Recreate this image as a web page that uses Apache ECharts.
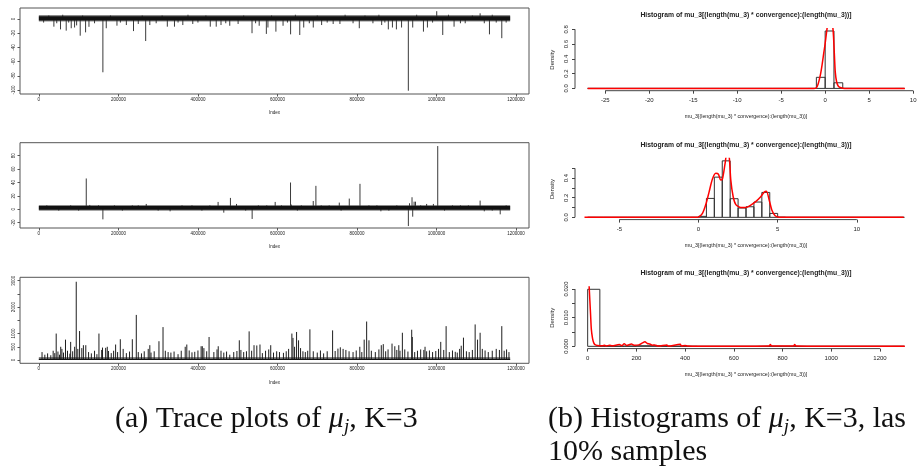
<!DOCTYPE html>
<html>
<head>
<meta charset="utf-8">
<script src="https://cdn.jsdelivr.net/npm/echarts@6/dist/echarts.min.js"></script>
<style>
html, body { margin: 0; padding: 0; background: #fff; }
#chart { width: 918px; height: 466px; }
</style>
</head>
<body>
<div id="chart"></div>
<script>
// ---------- trace plots (left) ----------
const traceLength = 1185000
const traceTicks = [0, 200000, 400000, 600000, 800000, 1000000, 1200000]

const trace1Range = [-105.6, 15.5]
const trace1Ticks = [-100, -80, -60, -40, -20, 0]
const trace1Band = [-2, 4]
const trace1Halo = [-3.5, 5.5]
const trace1Spikes = [
  [37800, -10.8], [54500, -14.6], [68800, -16.4], [81400, -13], [89800, -12], [95000, -9],
  [104000, -23.5], [117500, -18.8], [126000, -11], [161000, -75], [169500, -13], [196400, -9.4],
  [220000, -8.5], [238000, -17], [250000, -7], [268600, -31], [279000, -8.5], [323000, -10.8],
  [341000, -10.8], [362000, -8.5], [387000, -7], [431000, -10.8], [446000, -10.8], [458000, -8.5],
  [480000, -9.5], [501000, -7], [536000, -20], [554000, -9.5], [572000, -21], [576000, -12],
  [596000, -17.8], [614000, -9.5], [633000, -21.6], [656000, -22.5], [666000, -12], [690000, -12],
  [711000, -8.5], [740000, -7], [757000, -7], [805700, -13], [862000, -8.5], [878700, -14.6],
  [889000, -12], [899000, -14.6], [912000, -12], [929000, -101], [940000, -12], [967000, -17.8],
  [977000, -12], [1000400, 11], [1015500, -22.5], [1044000, -10.8], [1072000, -6], [1109500, 8],
  [1120000, -6], [1133000, -21.6], [1150000, -5], [1164000, -27],
  [12000, -5], [25000, 5], [45000, -6], [60000, 6], [75000, -5], [110000, 5], [140000, -6],
  [180000, 5], [205000, -5], [260000, 5], [295000, -6], [310000, 5], [350000, -5], [375000, 6],
  [400000, -5], [420000, 5], [470000, -6], [515000, 5], [545000, -6], [585000, 5], [625000, -5],
  [645000, 6], [680000, -6], [700000, 5], [725000, -5], [770000, 6], [790000, -6], [820000, 5],
  [840000, -6], [855000, 6], [870000, -5], [950000, 6], [990000, -5], [1030000, 6], [1060000, -6],
  [1090000, 5], [1140000, 6], [1175000, -5]
]

const trace2Range = [-27.9, 99.4]
const trace2Ticks = [-20, 0, 20, 40, 60, 80]
const trace2Band = [-0.5, 5]
const trace2Halo = [-2, 6.5]
const trace2Spikes = [
  [119200, 46], [128000, 6.5], [161000, -15], [190000, 6], [235000, 6], [270000, 8], [330000, -3],
  [385000, 6], [450700, 11], [465000, -5], [481700, 17], [497000, 8], [536300, -14.4], [552000, 6],
  [573000, 6], [594200, 11], [632800, 40], [635000, 7], [660000, 6], [689900, 12.4], [696600, 35],
  [730000, 6], [755400, 10], [780500, 16], [807400, 38], [830000, 6], [860000, -3], [900000, 6],
  [929100, -25], [932000, 9], [938300, 18], [940000, -11], [943500, 11.4], [947000, 11.4],
  [975000, 8], [992000, 8], [1002900, 94.4], [1040000, 6], [1060000, 6], [1109500, 13],
  [1120000, -3], [1160000, -7.5],
  [20000, 6], [50000, -2], [80000, 6], [100000, -2], [150000, 6], [210000, -2], [250000, 6],
  [300000, -2], [360000, 6], [410000, -2], [430000, 6], [520000, -2], [610000, 6], [650000, -2],
  [710000, 6], [760000, -2], [850000, 6], [880000, -2], [960000, 6], [1020000, -2], [1080000, 6],
  [1140000, -2], [1175000, 6]
]

const trace3Range = [-125, 3128]
const trace3Ticks = [0, 500, 1000, 1500, 2000, 2500, 3000]
const trace3Labels = [0, 500, 1000, 2000, 3000]
const trace3Band = [0, 50]
const trace3Halo = [0, 110]
const trace3Spikes = [
  [43600, 1000], [55000, 500], [67000, 770], [80000, 685], [94000, 2960], [102400, 1095],
  [118000, 560], [151100, 1000], [160000, 470], [172000, 500], [193000, 585], [204800, 785],
  [235000, 785], [245000, 1705], [279000, 560], [302000, 710], [312200, 1245], [372000, 585],
  [411000, 520], [428000, 870], [451000, 520], [504000, 745], [528700, 1083], [541000, 560],
  [556000, 585], [583000, 560], [636200, 1000], [639000, 835], [648000, 1060], [653000, 745],
  [681500, 1160], [738600, 1120], [807000, 500], [818000, 770], [824200, 1455], [830000, 745],
  [861000, 560], [888000, 620], [905000, 560], [914000, 1030], [937500, 1145], [939000, 870],
  [971000, 500], [1010500, 685], [1024000, 1280], [1047000, 310], [1067600, 845], [1097000, 1345],
  [1103000, 770], [1109500, 1030], [1164000, 1280], [1176000, 400],
  [8000, 300], [15000, 200], [22000, 250], [30000, 180], [36000, 350], [40000, 260], [48000, 320],
  [52000, 200], [58000, 420], [62000, 280], [72000, 350], [78000, 240], [85000, 330], [90000, 500],
  [98000, 420], [108000, 450], [112000, 560], [125000, 300], [132000, 250], [140000, 350],
  [146000, 220], [158000, 380], [168000, 460], [175000, 340], [182000, 260], [188000, 350],
  [198000, 300], [212000, 420], [220000, 260], [228000, 320], [250000, 300], [258000, 250],
  [265000, 330], [275000, 420], [282000, 280], [290000, 330], [318000, 350], [325000, 300],
  [332000, 280], [340000, 320], [350000, 220], [358000, 350], [368000, 500], [378000, 360],
  [385000, 290], [392000, 310], [400000, 360], [408000, 520], [415000, 450], [422000, 330],
  [440000, 300], [448000, 400], [458000, 350], [465000, 280], [472000, 320], [480000, 200],
  [490000, 300], [498000, 340], [508000, 380], [515000, 300], [522000, 330], [535000, 350],
  [548000, 550], [562000, 260], [570000, 350], [578000, 400], [590000, 280], [598000, 330],
  [605000, 300], [615000, 270], [622000, 330], [628000, 420], [643000, 500], [658000, 450],
  [664000, 330], [670000, 300], [676000, 350], [690000, 330], [700000, 280], [708000, 360],
  [716000, 250], [725000, 330], [745000, 340], [752000, 430], [758000, 480], [765000, 420],
  [772000, 380], [780000, 330], [790000, 300], [798000, 360], [812000, 300], [836000, 350],
  [846000, 300], [855000, 400], [866000, 600], [872000, 330], [878000, 400], [895000, 520],
  [900000, 380], [908000, 350], [920000, 400], [928000, 320], [945000, 300], [952000, 350],
  [960000, 400], [968000, 380], [975000, 330], [982000, 360], [990000, 300], [998000, 340],
  [1005000, 420], [1018000, 380], [1032000, 300], [1040000, 360], [1052000, 280], [1058000, 420],
  [1062000, 540], [1075000, 330], [1082000, 300], [1090000, 380], [1115000, 420], [1122000, 360],
  [1130000, 300], [1140000, 350], [1150000, 420], [1158000, 380], [1170000, 350], [1182000, 300]
]

// ---------- histograms (right) ----------
const histTitle = 'Histogram of mu_3[(length(mu_3) * convergence):(length(mu_3))]'
const histXName = 'mu_3[(length(mu_3) * convergence):(length(mu_3))]'

const hist1Start = -27
const hist1Step = 1
const hist1Density = [
  0.0003, 0, 0, 0, 0, 0, 0, 0, 0, 0,
  0, 0, 0, 0, 0, 0, 0, 0, 0, 0,
  0, 0, 0, 0, 0, 0.0005, 0.15, 0.777, 0.076, 0.0008,
  0.0002, 0, 0, 0, 0, 0.0005
]
const hist1XTicks = [-25, -20, -15, -10, -5, 0, 5, 10]
const hist1YTicks = [0, 0.2, 0.4, 0.6, 0.8]
const hist1YLabels = [0, 0.2, 0.4, 0.6, 0.8]
const dens1 = [
  [-27, 0], [-1.3, 0], [-1.0, 0.01], [-0.8, 0.06], [-0.55, 0.18], [-0.35, 0.32], [-0.17, 0.47],
  [0.0, 0.61], [0.15, 0.75], [0.3, 0.88], [0.5, 0.97], [0.7, 0.95], [0.85, 0.85], [0.95, 0.7],
  [1.05, 0.45], [1.15, 0.22], [1.3, 0.09], [1.5, 0.03], [1.8, 0.008], [2.2, 0], [9.06, 0]
]

const hist2Start = -7
const hist2Step = 0.5
const hist2Density = [
  0.0003, 0, 0, 0, 0, 0, 0, 0, 0, 0,
  0, 0, 0, 0.0005, 0.01, 0.193, 0.41, 0.576, 0.19, 0.095,
  0.108, 0.156, 0.254, 0.04, 0.002, 0, 0, 0, 0, 0,
  0, 0, 0, 0, 0, 0, 0, 0, 0, 0.0003
]
const hist2XTicks = [-5, 0, 5, 10]
const hist2YTicks = [0, 0.1, 0.2, 0.3, 0.4, 0.5]
const hist2YLabels = [0, 0.2, 0.4]
const dens2 = [
  [-7.2, 0], [-0.1, 0], [0.04, 0.007], [0.25, 0.04], [0.46, 0.13], [0.67, 0.26], [0.88, 0.39],
  [1.09, 0.45], [1.26, 0.44], [1.4, 0.38], [1.51, 0.39], [1.68, 0.55], [1.8, 0.66], [1.93, 0.63],
  [2.04, 0.38], [2.19, 0.21], [2.36, 0.13], [2.67, 0.1], [2.98, 0.1], [3.3, 0.125], [3.61, 0.16],
  [3.93, 0.21], [4.14, 0.255], [4.29, 0.265], [4.46, 0.18], [4.63, 0.075], [4.84, 0.017],
  [5.1, 0.002], [5.4, 0], [12.96, 0]
]

const hist3Start = 0
const hist3Step = 50
const hist3Density = [
  0.0199, 0.0001, 0.00005, 0.0001, 0.0002, 0.0002, 0.00005, 0.00005, 0.00003, 0,
  0, 0, 0, 0, 0.00001, 0.00002, 0, 0, 0, 0,
  0, 0, 0, 0, 0, 0.00001
]
const hist3XTicks = [0, 200, 400, 600, 800, 1000, 1200]
const hist3YTicks = [0, 0.005, 0.01, 0.015, 0.02]
const hist3YLabels = [0, 0.01, 0.02]
const dens3 = [
  [2, 0.03], [4, 0.025], [6, 0.021], [9, 0.016], [12, 0.011], [15, 0.006], [20, 0.0028],
  [25, 0.0012], [30, 0.0006], [40, 0.0003], [60, 0.0002], [70, 0.0004], [75, 0.0001],
  [90, 0.0004], [100, 0.0002], [130, 0.0006], [140, 0.0002], [150, 0.0009], [160, 0.0003],
  [180, 0.0008], [190, 0.0004], [210, 0.0005], [225, 0.0012], [235, 0.0016], [245, 0.001],
  [255, 0.0008], [265, 0.0004], [275, 0.0005], [290, 0.0001], [325, 0.0005], [330, 0.0001],
  [380, 0.0007], [385, 0.0001], [400, 0.0003], [410, 0.0001], [430, 0.00005], [600, 0.00003],
  [745, 0.0001], [750, 0.0006], [755, 0.0001], [845, 0.0001], [850, 0.0006], [855, 0.0001],
  [1000, 0.00003], [1250, 0.00002], [1302, 0]
]

// ---------- helpers ----------
const SANS = '"Liberation Sans", Arial, sans-serif'
const SERIF = '"Liberation Serif", "Times New Roman", serif'
const INK = '#222'

function padRange (lo, hi) {
  // R default axis style: data range widened by 4%
  const d = (hi - lo) * 0.04
  return [lo - d, hi + d]
}

function bandSeries (gi, band, color) {
  return {
    type: 'custom', xAxisIndex: gi, yAxisIndex: gi, silent: true, clip: true,
    encode: { x: [0, 1], y: [2, 3] },
    data: [[0, traceLength, band[0], band[1]]],
    renderItem: function (params, api) {
      const a = api.coord([api.value(0), api.value(3)])
      const b = api.coord([api.value(1), api.value(2)])
      return { type: 'rect', shape: { x: a[0], y: a[1], width: b[0] - a[0], height: b[1] - a[1] }, style: { fill: color } }
    }
  }
}

function spikeSeries (gi, base, spikes, color) {
  return {
    type: 'custom', xAxisIndex: gi, yAxisIndex: gi, silent: true, clip: true,
    data: spikes,
    renderItem: function (params, api) {
      const a = api.coord([api.value(0), base])
      const b = api.coord([api.value(0), api.value(1)])
      return { type: 'line', shape: { x1: a[0], y1: a[1], x2: b[0], y2: b[1] }, style: { stroke: color, lineWidth: 1 } }
    }
  }
}

function histSeries (gi, start, step, density) {
  const bins = density.map(function (d, i) { return [start + i * step, start + (i + 1) * step, d] })
  return {
    type: 'custom', xAxisIndex: gi, yAxisIndex: gi, silent: true, clip: true,
    encode: { x: [0, 1], y: 2 },
    data: bins,
    renderItem: function (params, api) {
      const a = api.coord([api.value(0), api.value(2)])
      const b = api.coord([api.value(1), 0])
      return { type: 'rect', shape: { x: a[0], y: a[1], width: b[0] - a[0], height: b[1] - a[1] }, style: { fill: 'none', stroke: '#333', lineWidth: 1 } }
    }
  }
}

function densSeries (gi, pts) {
  return {
    type: 'line', xAxisIndex: gi, yAxisIndex: gi, data: pts, showSymbol: false, silent: true,
    smooth: 0.25, clip: true,
    lineStyle: { color: '#ff0000', width: 1.5 }
  }
}

const traceGrids = [
  { left: 20, top: 8, width: 509, height: 86 },
  { left: 20, top: 142.7, width: 509, height: 85.3 },
  { left: 20, top: 277.3, width: 509, height: 86 }
]
const histGrids = [
  { left: 575, top: 28.7, width: 342, height: 62 },
  { left: 575, top: 158.6, width: 342, height: 61 },
  { left: 575, top: 287, width: 342, height: 61.6 }
]

const traceX = padRange(1, traceLength)
const traces = [
  { range: trace1Range, ticks: trace1Ticks, labels: trace1Ticks, band: trace1Band, halo: trace1Halo, spikes: trace1Spikes, color: '#3a3a3a' },
  { range: trace2Range, ticks: trace2Ticks, labels: trace2Ticks, band: trace2Band, halo: trace2Halo, spikes: trace2Spikes, color: '#3a3a3a' },
  { range: trace3Range, ticks: trace3Ticks, labels: trace3Labels, band: trace3Band, halo: trace3Halo, spikes: trace3Spikes, color: '#1e1e1e' }
]
const hists = [
  { start: hist1Start, step: hist1Step, density: hist1Density, xTicks: hist1XTicks, yTicks: hist1YTicks, yLabels: hist1YLabels, dens: dens1, digits: 1 },
  { start: hist2Start, step: hist2Step, density: hist2Density, xTicks: hist2XTicks, yTicks: hist2YTicks, yLabels: hist2YLabels, dens: dens2, digits: 1 },
  { start: hist3Start, step: hist3Step, density: hist3Density, xTicks: hist3XTicks, yTicks: hist3YTicks, yLabels: hist3YLabels, dens: dens3, digits: 3 }
]

const grid = []
const xAxis = []
const yAxis = []
const series = []

traces.forEach(function (t, i) {
  grid.push(Object.assign({ show: true, borderColor: '#555', borderWidth: 1, backgroundColor: 'transparent', outerBoundsMode: 'none' }, traceGrids[i]))
  xAxis.push({
    type: 'value', gridIndex: i, min: traceX[0], max: traceX[1],
    axisLine: { show: false, onZero: false }, splitLine: { show: false },
    axisTick: { show: true, length: 2.5, lineStyle: { color: '#555' }, customValues: traceTicks },
    axisLabel: { customValues: traceTicks, fontSize: 4.5, fontFamily: SANS, color: INK, margin: 3, formatter: function (v) { return String(v) } },
    name: 'Index', nameLocation: 'middle', nameGap: 16.5, nameTextStyle: { fontSize: 4.5, fontFamily: SANS, color: INK }
  })
  yAxis.push({
    type: 'value', gridIndex: i, min: t.range[0], max: t.range[1],
    axisLine: { show: false, onZero: false }, splitLine: { show: false },
    axisTick: { show: true, length: 2.5, lineStyle: { color: '#555' }, customValues: t.ticks },
    axisLabel: { customValues: t.labels, fontSize: 4.5, fontFamily: SANS, color: INK, margin: 4, rotate: 90, formatter: function (v) { return String(v) } }
  })
  const base = (t.band[0] + t.band[1]) / 2
  series.push(bandSeries(i, t.halo, '#8a8a8a'))
  series.push(spikeSeries(i, base, t.spikes, t.color))
  series.push(bandSeries(i, t.band, '#111'))
})

hists.forEach(function (h, k) {
  const gi = 3 + k
  const xr = padRange(h.start, h.start + h.step * h.density.length)
  const yr = padRange(0, Math.max.apply(null, h.density))
  grid.push(Object.assign({ show: false, outerBoundsMode: 'none' }, histGrids[k]))
  xAxis.push({
    type: 'value', gridIndex: gi, min: xr[0], max: xr[1],
    axisLine: { show: false, onZero: false }, splitLine: { show: false },
    axisTick: { show: true, length: 3, lineStyle: { color: '#444' }, customValues: h.xTicks },
    axisLabel: { customValues: h.xTicks, fontSize: 6, fontFamily: SANS, color: INK, margin: 7, formatter: function (v) { return String(v) } },
    name: histXName, nameLocation: 'middle', nameGap: 23.5, nameTextStyle: { fontSize: 5.3, fontFamily: SANS, color: INK }
  })
  yAxis.push({
    type: 'value', gridIndex: gi, min: yr[0], max: yr[1],
    axisLine: { show: false, onZero: false }, splitLine: { show: false },
    axisTick: { show: true, length: 3, lineStyle: { color: '#444' }, customValues: h.yTicks },
    axisLabel: { customValues: h.yLabels, fontSize: 6, fontFamily: SANS, color: INK, margin: 6, rotate: 90, formatter: function (v) { return v.toFixed(h.digits) } },
    name: 'Density', nameLocation: 'middle', nameGap: 20, nameRotate: 90, nameTextStyle: { fontSize: 6, fontFamily: SANS, color: INK }
  })
  series.push(histSeries(gi, h.start, h.step, h.density))
  series.push(densSeries(gi, h.dens))
})

const titleY = [15, 145, 273.3]
const graphic = titleY.map(function (y) {
  return { type: 'text', x: 746, y: y, style: { text: histTitle, font: 'bold 6.8px ' + SANS, fill: INK, align: 'center', verticalAlign: 'middle' } }
})
const capRich = {
  t: { fontFamily: SERIF, fontSize: 30, lineHeight: 34, fill: '#111' },
  m: { fontFamily: SERIF, fontStyle: 'italic', fontSize: 30, lineHeight: 34, fill: '#111' },
  s: { fontFamily: SERIF, fontStyle: 'italic', fontSize: 19, lineHeight: 34, verticalAlign: 'bottom', fill: '#111' }
}
graphic.push({ type: 'text', x: 115, y: 419, style: { text: '{t|(a) Trace plots of }{m|μ}{s|j}{t|, K=3}', rich: capRich, verticalAlign: 'middle' } })
graphic.push({ type: 'text', x: 548, y: 419, style: { text: '{t|(b) Histograms of }{m|μ}{s|j}{t|, K=3, las}', rich: capRich, verticalAlign: 'middle' } })
graphic.push({ type: 'text', x: 548, y: 452, style: { text: '{t|10% samples}', rich: capRich, verticalAlign: 'middle' } })

const chart = echarts.init(document.getElementById('chart'))
chart.setOption({
  animation: false,
  backgroundColor: '#fff',
  grid: grid,
  xAxis: xAxis,
  yAxis: yAxis,
  series: series,
  graphic: graphic
})

// R draws histogram axis lines only from the first to the last tick
const axisLines = []
hists.forEach(function (h, k) {
  const gi = 3 + k
  const yr = padRange(0, Math.max.apply(null, h.density))
  const xr = padRange(h.start, h.start + h.step * h.density.length)
  const a = chart.convertToPixel({ gridIndex: gi }, [h.xTicks[0], yr[0]])
  const b = chart.convertToPixel({ gridIndex: gi }, [h.xTicks[h.xTicks.length - 1], yr[0]])
  const c = chart.convertToPixel({ gridIndex: gi }, [xr[0], h.yTicks[0]])
  const d = chart.convertToPixel({ gridIndex: gi }, [xr[0], h.yTicks[h.yTicks.length - 1]])
  axisLines.push({ type: 'line', shape: { x1: a[0], y1: a[1], x2: b[0], y2: b[1] }, style: { stroke: '#444', lineWidth: 1 } })
  axisLines.push({ type: 'line', shape: { x1: c[0], y1: c[1], x2: d[0], y2: d[1] }, style: { stroke: '#444', lineWidth: 1 } })
})
chart.setOption({ graphic: graphic.concat(axisLines) })
</script>
</body>
</html>
